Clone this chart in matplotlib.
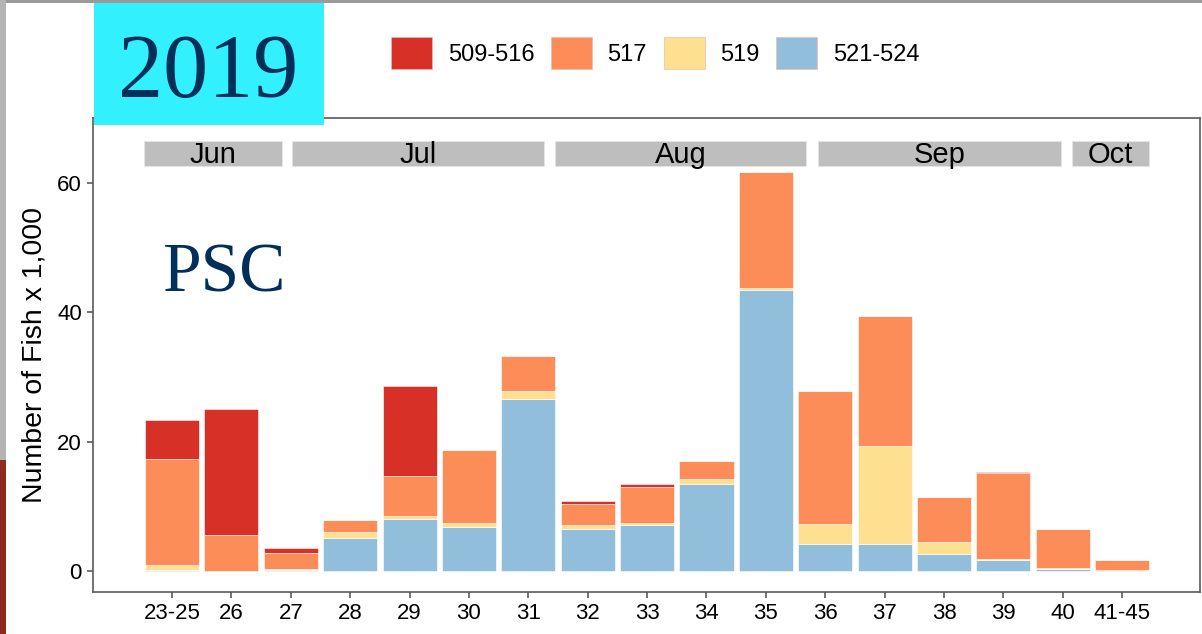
import numpy as np
import matplotlib
matplotlib.use("Agg")
import matplotlib.pyplot as plt
from matplotlib.patches import Rectangle, Patch

plt.rcParams['font.family'] = ['Liberation Sans', 'DejaVu Sans']

# data, number of fish x 1,000 per stat week
weeks = ['23-25', '26', '27', '28', '29', '30', '31', '32', '33',
         '34', '35', '36', '37', '38', '39', '40', '41-45']
blue_521_524 = [0.1, 0.05, 0.2, 5.15, 8.1, 6.8, 26.55, 6.5, 7.1,
                13.4, 43.45, 4.23, 4.1, 2.6, 1.65, 0.35, 0.05]
yellow_519 = [0.8, 0.0, 0.1, 0.85, 0.45, 0.55, 1.3, 0.6, 0.27,
              0.9, 0.35, 3.05, 15.2, 1.95, 0.15, 0.15, 0.15]
orange_517 = [16.4, 5.5, 2.5, 1.85, 6.2, 11.35, 5.45, 3.3, 5.6,
              2.65, 17.95, 20.6, 20.1, 6.9, 13.3, 6.0, 1.45]
red_509_516 = [6.1, 19.5, 0.7, 0.0, 13.9, 0.0, 0.0, 0.4, 0.5,
               0.1, 0.0, 0.0, 0.0, 0.0, 0.15, 0.0, 0.0]

series_labels = ['509-516', '517', '519', '521-524']
series_colors = ['#D73027', '#FC8D59', '#FEE090', '#91BFDB']

# month strips along the top (in week-axis units)
months = ['Jun', 'Jul', 'Aug', 'Sep', 'Oct']
month_start = [-0.47, 2.02, 6.45, 10.87, 15.16]
month_end = [1.85, 6.27, 10.68, 14.97, 16.45]

W, H = 1202, 634
fig = plt.figure(figsize=(W / 100, H / 100), dpi=100, facecolor='white')
ax = fig.add_axes([93 / W, (H - 592) / H, (1200 - 93) / W, (592 - 118) / H])

x = np.arange(len(weeks))
bottom = np.zeros(len(weeks))
stack = [blue_521_524, yellow_519, orange_517, red_509_516]
stack_colors = series_colors[::-1]
for vals, col in zip(stack, stack_colors):
    vals = np.array(vals)
    ax.bar(x, vals, width=0.91, bottom=bottom, color=col,
           edgecolor='white', linewidth=0.4)
    bottom += vals

ax.set_xlim(-1.33, 17.31)
ax.set_ylim(-3.25, 70.05)
ax.set_xticks(x)
ax.set_xticklabels(weeks)
ax.set_yticks([0, 20, 40, 60])
ax.tick_params(axis='both', labelsize=16, length=4.5, width=1.1,
               color='#4D4D4D', pad=3.5)
for sp in ax.spines.values():
    sp.set_color('#5A5A5A')
    sp.set_linewidth(1.2)
ax.set_ylabel('Number of Fish x 1,000', fontsize=20.5, labelpad=7)

# month strips
for m, s, e in zip(months, month_start, month_end):
    ax.add_patch(Rectangle((s, 62.6), e - s, 3.9, facecolor='#BEBEBE',
                           edgecolor='#E6E6E6', linewidth=0.6, clip_on=False))
    ax.text((s + e) / 2, 64.4, m, ha='center', va='center', fontsize=21)

# legend above the panel
handles = [Patch(facecolor=c, edgecolor='#F2B8B0', linewidth=0.5)
           for c in series_colors]
fig.legend(handles, series_labels, loc='center left',
           bbox_to_anchor=(391 / W, 1 - 53 / H), ncol=4, frameon=False,
           fontsize=17, handlelength=1.74, handleheight=1.74,
           handletextpad=0.66, columnspacing=0.7, borderpad=0,
           borderaxespad=0)

# year badge and PSC label
fig.add_artist(Rectangle((94 / W, 1 - 125 / H), 230 / W, 122 / H,
                         transform=fig.transFigure, facecolor='#33F0FF',
                         edgecolor='none', zorder=5))
fig.text(208 / W, 1 - 97 / H, '2019', ha='center', va='baseline',
         fontsize=65, family='Liberation Serif', color='#00305A', zorder=6)
fig.text(163 / W, 1 - 292 / H, 'PSC', ha='left', va='baseline',
         fontsize=50, family='Liberation Serif', color='#00305A', zorder=6)

# screenshot edges
fig.add_artist(Rectangle((0, 1 - 3 / H), 1, 3 / H, transform=fig.transFigure,
                         facecolor='#9A9A9A', edgecolor='none', zorder=4))
fig.add_artist(Rectangle((0, 1 - 460 / H), 6 / W, 460 / H,
                         transform=fig.transFigure, facecolor='#B4B4B4',
                         edgecolor='none', zorder=4))
fig.add_artist(Rectangle((0, 0), 6 / W, 1 - 460 / H,
                         transform=fig.transFigure, facecolor='#8E2A22',
                         edgecolor='none', zorder=4))

fig.savefig('out.png', dpi=100)
